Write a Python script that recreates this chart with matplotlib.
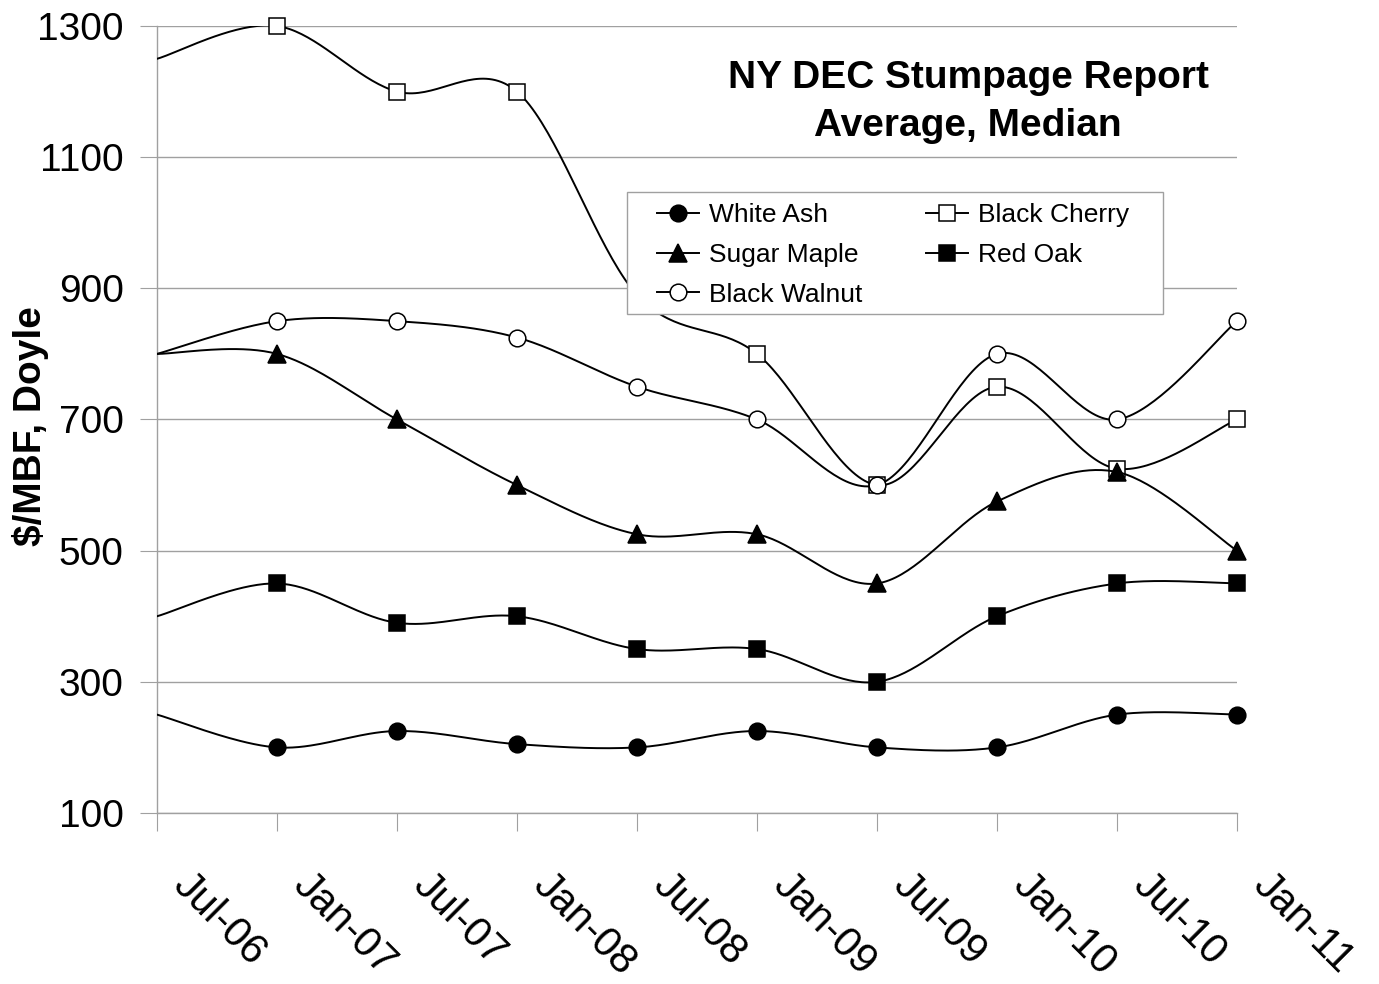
import matplotlib
matplotlib.use("Agg")
import matplotlib.pyplot as plt
import matplotlib.transforms as mtransforms
import numpy as np
from matplotlib.lines import Line2D
from matplotlib.patches import Rectangle

plt.rcParams['font.family'] = ['Liberation Sans', 'DejaVu Sans']

labels = ["Jul-06", "Jan-07", "Jul-07", "Jan-08", "Jul-08",
          "Jan-09", "Jul-09", "Jan-10", "Jul-10", "Jan-11"]

white_ash = [250, 200, 225, 205, 200, 225, 200, 200, 250, 250]
red_oak = [400, 450, 390, 400, 350, 350, 300, 400, 450, 450]
black_cherry = [1250, 1300, 1200, 1200, 890, 800, 600, 750, 625, 700]
sugar_maple = [800, 800, 700, 600, 525, 525, 450, 575, 620, 500]
black_walnut = [800, 850, 850, 825, 750, 700, 600, 800, 700, 850]


def smooth(y, n=40):
    """Excel-like smoothed line (Catmull-Rom as cubic Bezier)."""
    y = np.asarray(y, float)
    x = np.arange(len(y), dtype=float)
    pts = np.column_stack([x, y])
    out = [pts[0]]
    t = np.linspace(0, 1, n)[1:]
    for i in range(len(pts) - 1):
        p0 = pts[i - 1] if i > 0 else pts[i]
        p1 = pts[i]
        p2 = pts[i + 1]
        p3 = pts[i + 2] if i + 2 < len(pts) else pts[i + 1]
        c1 = p1 + (p2 - p0) / 6
        c2 = p2 - (p3 - p1) / 6
        for tt in t:
            b = ((1 - tt) ** 3 * p1 + 3 * (1 - tt) ** 2 * tt * c1
                 + 3 * (1 - tt) * tt ** 2 * c2 + tt ** 3 * p2)
            out.append(b)
    out = np.array(out)
    return out[:, 0], out[:, 1]


fig = plt.figure(figsize=(13.79, 9.84), dpi=100)
ax = fig.add_axes([157 / 1379, 1 - 813 / 984, 1080 / 1379, 787 / 984])

series = [
    ("White Ash", white_ash, "o", "black"),
    ("Red Oak", red_oak, "s", "black"),
    ("Black Cherry", black_cherry, "s", "white"),
    ("Sugar Maple", sugar_maple, "^", "black"),
    ("Black Walnut", black_walnut, "o", "white"),
]
handles = {}
for z, (name, vals, mk, fc) in enumerate(series):
    sx, sy = smooth(vals)
    ax.plot(sx, sy, color="black", lw=1.4, zorder=3 + z * 2)
    ms = 13 if mk == "^" else 12
    ax.plot(np.arange(1, len(vals)), vals[1:], linestyle="none", marker=mk,
            markersize=ms, markerfacecolor=fc, markeredgecolor="black",
            markeredgewidth=1.1, zorder=4 + z * 2, clip_on=False)
    handles[name] = Line2D([], [], color="black", lw=1.4, marker=mk,
                           markersize=ms, markerfacecolor=fc,
                           markeredgecolor="black", markeredgewidth=1.1)

ax.set_xlim(0, len(labels) - 1)
ax.set_ylim(100, 1300)
ax.set_yticks(np.arange(100, 1301, 200))
ax.set_xticks(np.arange(len(labels)))
ax.set_xticklabels([])
off = mtransforms.ScaledTranslation(0.36, -0.52, fig.dpi_scale_trans)
for i, lab in enumerate(labels):
    ax.text(i, 0, lab, transform=ax.get_xaxis_transform() + off,
            rotation=-45, rotation_mode="anchor", ha="left", va="top",
            fontsize=30)
ax.tick_params(axis="y", labelsize=28, length=12, color="#a0a0a0", pad=12)
ax.tick_params(axis="x", length=13, color="#a0a0a0")
ax.grid(axis="y", color="#a0a0a0", lw=1)
ax.set_axisbelow(True)
for s in ["top", "right"]:
    ax.spines[s].set_visible(False)
for s in ["left", "bottom"]:
    ax.spines[s].set_color("#a0a0a0")
    ax.spines[s].set_linewidth(1)

ax.set_ylabel("$/MBF, Doyle", fontsize=28, fontweight="bold")
ax.yaxis.set_label_coords(-0.100, 0.492)

fig.text(968 / 1379, 1 - 102 / 984, "NY DEC Stumpage Report\nAverage, Median",
         ha="center", va="center", fontsize=28, fontweight="bold",
         linespacing=1.45)

# legend box (Excel-style, wider than its contents)
ax.add_patch(Rectangle((627 / 1379, 1 - 314 / 984), 536 / 1379, 122 / 984,
                       transform=fig.transFigure, facecolor="white",
                       edgecolor="#a0a0a0", lw=1, zorder=19, clip_on=False))
order = ["White Ash", "Sugar Maple", "Black Walnut", "Black Cherry", "Red Oak"]
leg = ax.legend([handles[n] for n in order], order, ncol=2,
                loc="upper left", bbox_to_anchor=(657 / 1379, 1 - 203 / 984),
                bbox_transform=fig.transFigure, fontsize=19, frameon=False,
                handlelength=1.6, handletextpad=0.38, columnspacing=2.4,
                labelspacing=0.6, borderpad=0, borderaxespad=0, numpoints=1)
leg.set_zorder(20)

fig.savefig("out.png", dpi=100, facecolor="white")
